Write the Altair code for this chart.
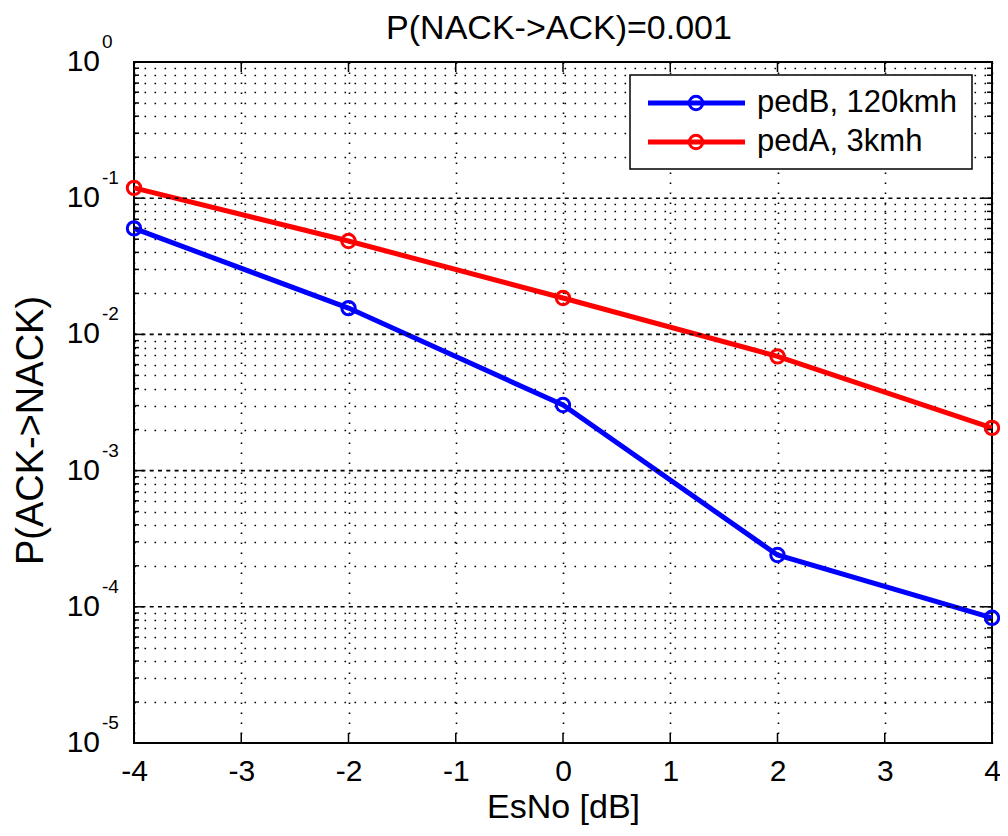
import altair as alt
import pandas as pd

# ---- data ----
esno = [-4, -2, 0, 2, 4]
pedB = [0.060, 0.0156, 0.00303, 0.00024, 0.000083]
pedA = [0.119, 0.0485, 0.0185, 0.0069, 0.00206]
series_names = ["pedB, 120kmh", "pedA, 3kmh"]
series_colors = ["#0000ff", "#ff0000"]
x_ticks = [-4, -3, -2, -1, 0, 1, 2, 3, 4]
decades = [1, 0.1, 0.01, 0.001, 0.0001, 0.00001]
exponents = ["0", "-1", "-2", "-3", "-4", "-5"]
minor = [m * 10.0 ** e for e in range(-5, 0) for m in range(2, 10)]

title_text = "P(NACK->ACK)=0.001"
x_title = "EsNo [dB]"
y_title = "P(ACK->NACK)"

W, H = 858, 681
FONT = "Liberation Sans"

df = pd.DataFrame({
    "x": esno * 2,
    "p": pedB + pedA,
    "series": [series_names[0]] * len(esno) + [series_names[1]] * len(esno),
})
dec_df = pd.DataFrame({"p": decades, "e": exponents, "t": ["10"] * len(decades)})
minor_df = pd.DataFrame({"p": minor})
xt_df = pd.DataFrame({"x": x_ticks})
one = pd.DataFrame({"a": [0]})

xs = alt.Scale(domain=[-4, 4], nice=False, zero=False)
ys = alt.Scale(type="log", domain=[1e-5, 1], nice=False)
grid_kw = dict(grid=True, gridColor="black", gridDash=[1.6, 8.4], gridWidth=1.6, gridOpacity=1)

AX_X = alt.Axis(
    values=x_ticks, title=x_title, domain=False, ticks=False,
    labelFontSize=30, labelPadding=13, labelColor="black", labelFlush=False,
    labelOverlap=False, labelExpr="'' + datum.value", labelFont=FONT,
    titleFontSize=34, titleFontWeight="normal", titlePadding=4, titleColor="black", titleFont=FONT,
    **grid_kw)
AX_Y = alt.Axis(
    values=minor, title=y_title, labels=False, ticks=False, domain=False,
    titleFontSize=38, titleFontWeight="normal", titleColor="black", titleFont=FONT,
    titleX=-92, titleY=368, titleAngle=270, titleAlign="center", titleBaseline="alphabetic",
    **grid_kw)

X = alt.X("x:Q", scale=xs, axis=AX_X)
Y = alt.Y("p:Q", scale=ys, axis=AX_Y)

color = alt.Color("series:N", scale=alt.Scale(domain=series_names, range=series_colors), legend=None)

line = alt.Chart(df).mark_line(strokeWidth=5).encode(x=X, y=Y, color=color)
points = alt.Chart(df).mark_point(shape="circle", filled=False, size=180, strokeWidth=3, opacity=1).encode(
    x=X, y=Y, color=color)

dec_rules = alt.Chart(dec_df).mark_rule(color="black", strokeDash=[4, 4.3], strokeWidth=1.6).encode(y=Y)

tick_style = dict(color="black", strokeWidth=1.5)
minor_left = alt.Chart(minor_df).mark_rule(**tick_style).encode(y=Y, x=alt.value(0), x2=alt.value(5))
minor_right = alt.Chart(minor_df).mark_rule(**tick_style).encode(y=Y, x=alt.value(W - 5), x2=alt.value(W))
dec_left = alt.Chart(dec_df).mark_rule(**tick_style).encode(y=Y, x=alt.value(0), x2=alt.value(10))
dec_right = alt.Chart(dec_df).mark_rule(**tick_style).encode(y=Y, x=alt.value(W - 10), x2=alt.value(W))
x_bottom = alt.Chart(xt_df).mark_rule(**tick_style).encode(x=X, y=alt.value(H - 10), y2=alt.value(H))
x_top = alt.Chart(xt_df).mark_rule(**tick_style).encode(x=X, y=alt.value(0), y2=alt.value(10))

ylab_base = alt.Chart(dec_df).mark_text(fontSize=30, align="right", baseline="middle", color="black", font=FONT).encode(
    y=Y, x=alt.value(-34), text="t:N")
ylab_exp = alt.Chart(dec_df).mark_text(fontSize=19, align="left", baseline="alphabetic", dy=-14, color="black", font=FONT).encode(
    y=Y, x=alt.value(-32), text="e:N")

title_layer = alt.Chart(one).mark_text(text=title_text, fontSize=34, align="center", baseline="alphabetic",
                                       color="black", font=FONT).encode(
    x=alt.value(W / 2 - 4), y=alt.value(-23))

# ---- legend box (drawn manually to show line + circle marker) ----
LX = W - 362   # left edge of legend box
legend_layers = [
    alt.Chart(one).mark_rect(fill="white", stroke="black", strokeWidth=1.5).encode(
        x=alt.value(LX), x2=alt.value(LX + 342), y=alt.value(13), y2=alt.value(107))
]
for i, (name, col) in enumerate(zip(series_names, series_colors)):
    yy = 41 + i * 39
    legend_layers.append(alt.Chart(one).mark_rule(color=col, strokeWidth=5).encode(
        x=alt.value(LX + 18), x2=alt.value(LX + 115), y=alt.value(yy)))
    legend_layers.append(alt.Chart(one).mark_point(shape="circle", filled=False, size=180, strokeWidth=3, color=col, opacity=1).encode(
        x=alt.value(LX + 66), y=alt.value(yy)))
    legend_layers.append(alt.Chart(one).mark_text(text=name, fontSize=31, align="left", baseline="middle", color="black", font=FONT).encode(
        x=alt.value(LX + 127), y=alt.value(yy)))

chart = alt.layer(
    line, dec_rules, minor_left, minor_right, dec_left, dec_right, x_bottom, x_top,
    points, ylab_base, ylab_exp, title_layer, *legend_layers
).properties(
    width=W, height=H,
    padding={"left": 126, "top": 54, "right": 8, "bottom": 84},
    autosize=alt.AutoSizeParams(type="none"),
).configure(
    font=FONT, background="white"
).configure_view(
    stroke="black", strokeWidth=2
)

chart.save("out.html", embed_options={"renderer": "svg", "actions": False})
